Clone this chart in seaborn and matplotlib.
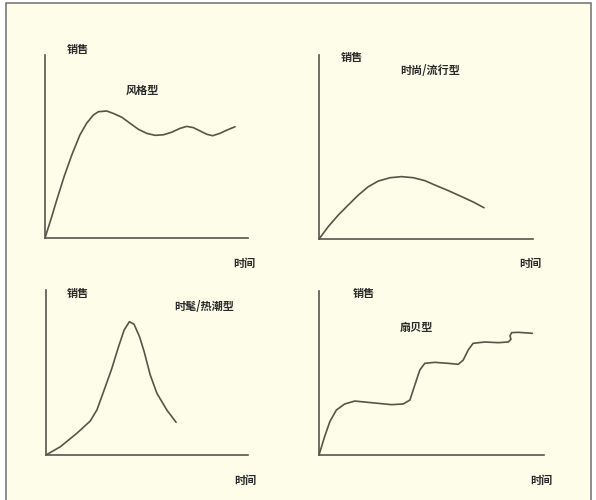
import numpy as np
import pandas as pd
import seaborn as sns
import matplotlib.pyplot as plt
from matplotlib.patches import Rectangle

# curve points (axis span = 0..100 on both axes)
style_x = [0, 3.3, 5.8, 9.4, 13.2, 17.2, 20.5, 23.8, 26.3, 30.4, 33.6, 37.8, 41.9, 46.0, 50.1,
           54.2, 58.3, 62.4, 66.5, 69.8, 73.1, 76.4, 79.7, 82.6, 86.2, 89.5, 93.6]
style_y = [0, 11.6, 20.8, 33.5, 45.4, 56.3, 62.7, 67.2, 69.0, 69.4, 68.1, 66.0, 62.7, 59.4, 57.2,
           56.1, 56.4, 57.8, 59.9, 61.0, 60.3, 58.5, 56.7, 55.9, 57.2, 58.9, 60.8]

fashion_x = [0, 4.3, 9.0, 13.7, 18.4, 23.0, 27.7, 33.2, 38.6, 44.1, 49.5, 54.2, 60.4, 66.7, 72.1, 77.1]
fashion_y = [0, 6.7, 13.0, 18.5, 23.9, 28.4, 31.5, 33.3, 33.9, 33.3, 31.7, 29.3, 26.3, 23.0, 20.1, 17.0]

fad_x = [0, 7.1, 15.3, 21.9, 25.2, 28.5, 32.6, 35.9, 38.7, 41.3, 43.6, 46.3, 48.6, 51.6, 54.9, 59.8, 64.4]
fad_y = [0, 5.0, 13.2, 20.6, 27.3, 38.4, 52.5, 65.6, 75.8, 80.8, 79.2, 71.7, 62.6, 48.5, 37.4, 27.3, 19.8]

scallop_x = [0, 2.5, 4.8, 7.7, 11.4, 15.9, 20.3, 26.3, 32.2, 37.4, 40.4, 42.6, 44.8, 47.0, 51.5,
             57.4, 61.9, 64.1, 66.3, 68.5, 73.7, 79.7, 84.1, 85.3, 84.9, 85.6, 88.6, 94.8]
scallop_y = [0, 11.2, 20.3, 27.4, 31.1, 32.9, 32.3, 31.5, 30.7, 31.1, 33.5, 42.7, 51.8, 55.9, 56.5,
             55.9, 55.3, 57.9, 64.0, 68.1, 68.9, 68.5, 68.9, 70.5, 72.7, 74.6, 74.8, 74.2]

titles = ["风格型", "时尚/流行型", "时髦/热潮型", "扇贝型"]
ylabel = "销售"
xlabel = "时间"

sns.set_style("white")
plt.rcParams['font.family'] = ['Noto Sans CJK SC', 'DejaVu Sans']

W, H = 596, 500
fig = plt.figure(figsize=(W / 100, H / 100), dpi=100)
fig.patch.set_facecolor("white")
bg = "#fdfde9"
fig.patches.append(Rectangle((6 / W, -0.01), 585 / W, (H - 3) / H + 0.01, transform=fig.transFigure,
                             facecolor=bg, edgecolor="#7a7a7a", linewidth=1.2, zorder=-5))

def px_axes(x0, x1, y0, y1):
    return fig.add_axes([x0 / W, (H - y1) / H, (x1 - x0) / W, (y1 - y0) / H])

panels = [
    (px_axes(45, 248, 55, 238), style_x, style_y),
    (px_axes(319, 533, 55, 239), fashion_x, fashion_y),
    (px_axes(46, 248, 290, 455), fad_x, fad_y),
    (px_axes(319, 544, 291, 455), scallop_x, scallop_y),
]

line_col = "#55554a"
for ax, xs, ys in panels:
    df = pd.DataFrame({"t": xs, "s": ys})
    sns.lineplot(data=df, x="t", y="s", ax=ax, sort=False, estimator=None,
                 color=line_col, linewidth=1.2, solid_joinstyle="round")
    ax.set_xlim(0, 100)
    ax.set_ylim(0, 100)
    ax.patch.set_visible(False)
    ax.set_xticks([])
    ax.set_yticks([])
    ax.set_xlabel("")
    ax.set_ylabel("")
    for side in ["top", "right"]:
        ax.spines[side].set_visible(False)
    for side in ["left", "bottom"]:
        ax.spines[side].set_color("#55554d")
        ax.spines[side].set_linewidth(1.2)

# text labels (pixel centres)
labels = [
    (78, 49, ylabel), (142, 90, titles[0]), (244, 263, xlabel),
    (352, 58, ylabel), (430, 70, titles[1]), (530, 263, xlabel),
    (78, 294, ylabel), (204, 307, titles[2]), (245, 480, xlabel),
    (364, 294, ylabel), (416, 327, titles[3]), (541, 480, xlabel),
]
for x, y, s in labels:
    fig.text(x / W, (H - y) / H, s, ha="center", va="center", fontsize=8,
             color="#2a2a2a", fontweight="bold")

fig.savefig("out.png", dpi=100, facecolor=fig.get_facecolor())
